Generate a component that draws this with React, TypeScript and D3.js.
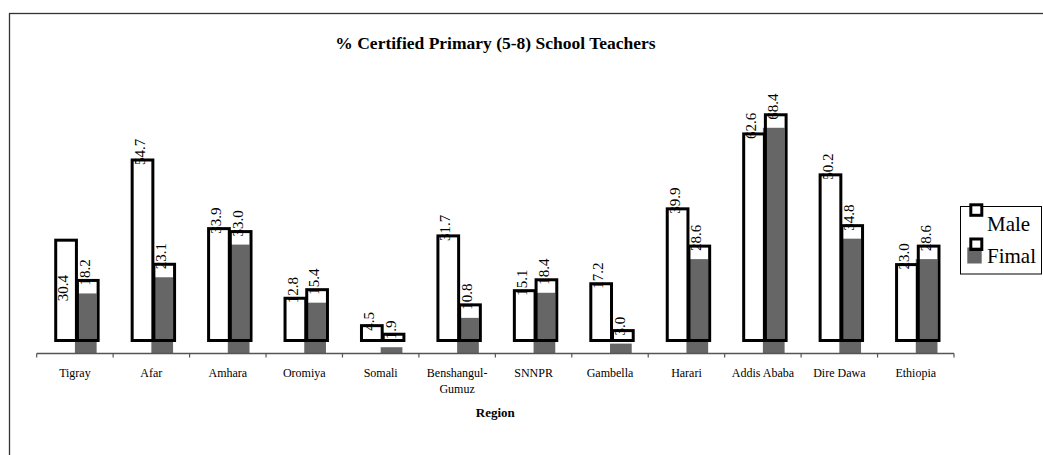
import React from "react";
import { scaleBand, scaleLinear } from "d3";

// data
const regions = [
  "Tigray", "Afar", "Amhara", "Oromiya", "Somali", "Benshangul-Gumuz",
  "SNNPR", "Gambella", "Harari", "Addis Ababa", "Dire Dawa", "Ethiopia",
];
const male = [30.4, 54.7, 33.9, 12.8, 4.5, 31.7, 15.1, 17.2, 39.9, 62.6, 50.2, 23.0];
const fimal = [18.2, 23.1, 33.0, 15.4, 1.9, 10.8, 18.4, 3.0, 28.6, 68.4, 34.8, 28.6];
const seriesKeys = ["Male", "Fimal"];

const W = 1043;
const H = 455;
const font = "'Liberation Serif', 'Times New Roman', serif";
const GRAY = "#666666";
const SHIFT_X = 2.5; // outline is drawn off its fill, like the source picture
const SHIFT_Y = 13;

const App = () => {
  const x0 = scaleBand().domain(regions).range([36.7, 954]).paddingInner(0.432).paddingOuter(0.216);
  const x1 = scaleBand().domain(seriesKeys).range([0, x0.bandwidth()]);
  const y = scaleLinear().domain([0, 80]).range([353.5, 353.5 - 264]);
  const step = x0.step();
  const baseY = y(0);
  const bw = x1.bandwidth();

  const ticks = regions.map((r) => (x0(r) as number) - (step * 0.432) / 2);
  ticks.push(954);

  const bars = regions.flatMap((r, i) => [
    { key: "Male", region: r, value: male[i], x: (x0(r) as number) + (x1("Male") as number) },
    { key: "Fimal", region: r, value: fimal[i], x: (x0(r) as number) + (x1("Fimal") as number) },
  ]);

  // the Tigray male label sits lower inside its bar in the source
  const labelDrop = (b) => (b.region === "Tigray" && b.key === "Male" ? 61 : 5);

  return (
    <svg width={W} height={H} style={{ position: "absolute", left: 0, top: 0 }} fontFamily={font}>
      <rect x={0} y={0} width={W} height={H} fill="#fff" />
      <rect x={9.5} y={13.5} width={1200} height={600} fill="none" stroke="#333" strokeWidth={1.3} />

      <text x={495.5} y={49} textAnchor="middle" fontWeight="bold" fontSize={17.5}>
        % Certified Primary (5-8) School Teachers
      </text>

      {/* grey fills of the Fimal series */}
      {bars.filter((b) => b.key === "Fimal").map((b, i) => (
        <rect key={"g" + i} x={b.x} y={y(b.value)} width={bw} height={baseY - y(b.value)} fill={GRAY} />
      ))}

      {/* outlines */}
      {bars.map((b, i) => (
        <rect
          key={"o" + i}
          x={b.x + SHIFT_X}
          y={y(b.value) - SHIFT_Y}
          width={bw - 1}
          height={baseY - y(b.value)}
          fill={b.key === "Male" ? "#fff" : "none"}
          stroke="#000"
          strokeWidth={3}
        />
      ))}

      {/* axis */}
      <line x1={36.7} x2={954} y1={baseY} y2={baseY} stroke="#555" strokeWidth={1.3} />
      {ticks.map((t, i) => (
        <line key={"t" + i} x1={t} x2={t} y1={baseY} y2={baseY + 4} stroke="#555" strokeWidth={1.2} />
      ))}

      {/* value labels */}
      {bars.map((b, i) => {
        const lx = b.x + 15;
        const ly = y(b.value) - SHIFT_Y + labelDrop(b);
        return (
          <text key={"l" + i} x={lx} y={ly} fontSize={15} transform={`rotate(-90,${lx},${ly})`}>
            {b.value.toFixed(1)}
          </text>
        );
      })}

      {/* category labels */}
      {regions.map((r) => {
        const cx = (x0(r) as number) + x0.bandwidth() / 2;
        const parts = r === "Benshangul-Gumuz" ? ["Benshangul-", "Gumuz"] : [r];
        return (
          <text key={r} x={cx} y={376.7} textAnchor="middle" fontSize={12}>
            {parts.map((p, j) => (
              <tspan key={j} x={cx} dy={j === 0 ? 0 : 16}>{p}</tspan>
            ))}
          </text>
        );
      })}
      <text x={495.3} y={417.3} textAnchor="middle" fontWeight="bold" fontSize={13}>Region</text>

      {/* legend */}
      <rect x={960.5} y={206.5} width={81} height={67.5} fill="#fff" stroke="#000" strokeWidth={1} />
      <rect x={970.8} y={204.8} width={11} height={10.5} fill="#fff" stroke="#000" strokeWidth={3} />
      <text x={987} y={230.7} fontSize={21}>{seriesKeys[0]}</text>
      <rect x={967.3} y={247.5} width={14.4} height={16} fill={GRAY} />
      <rect x={970.8} y={239} width={11} height={10.5} fill="none" stroke="#000" strokeWidth={3} />
      <text x={987} y={263.3} fontSize={21}>{seriesKeys[1]}</text>
    </svg>
  );
};

export default App;
